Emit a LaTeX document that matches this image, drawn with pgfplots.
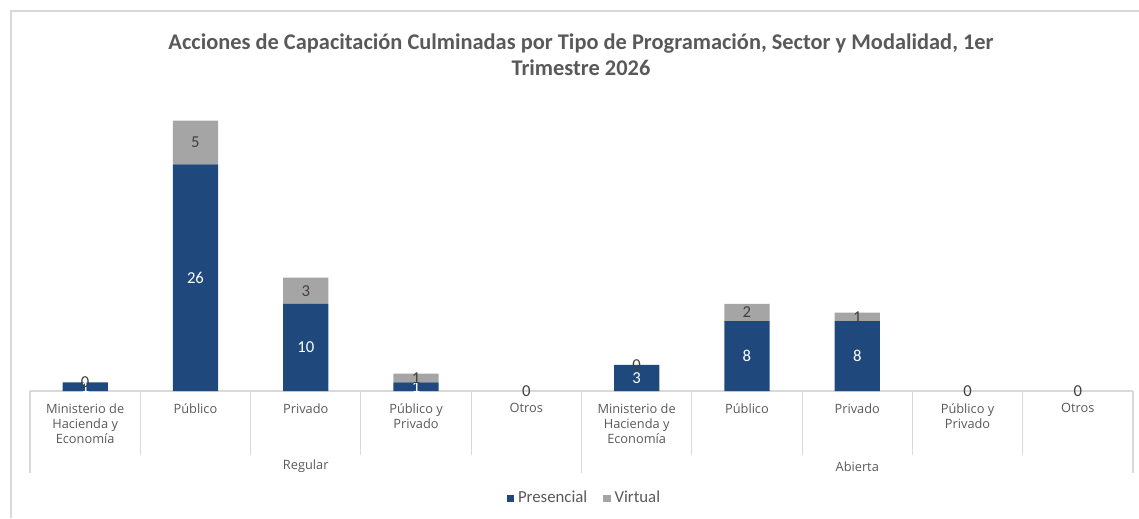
\documentclass[border=0pt]{standalone}
\usepackage{fontspec}
\setmainfont{Carlito}
\newfontfamily\ticks{Open Sans}
\usepackage{pgfplots}
\pgfplotsset{compat=1.18}
\usepackage{pgfplotstable}

\definecolor{presblue}{RGB}{31,73,125}
\definecolor{virtgray}{RGB}{165,165,165}
\definecolor{textgray}{RGB}{89,89,89}
\definecolor{labgray}{RGB}{64,64,64}
\definecolor{sepgray}{RGB}{217,217,217}

% x, Presencial, Virtual
\pgfplotstableread{
x pres virt
0 1 0
1 26 5
2 10 3
3 1 1
4 0 0
5 3 0
6 8 2
7 8 1
8 0 0
9 0 0
}\datatable

% label heights: middle of each segment
\pgfplotstableread{
x pc pv vc vv
0 0.5 1 1 0
1 13 26 28.5 5
2 5 10 11.5 3
3 0.5 1 1.5 1
4 0 0 0 0
5 1.5 3 3 0
6 4 8 9 2
7 4 8 8.5 1
8 0 0 0 0
9 0 0 0 0
}\labtable

\pgfplotsset{
  base/.style={
    width=827.25pt, height=228.9pt,
    scale only axis,
    at={(0,0)}, anchor=south west,
    xmin=-0.5, xmax=9.5,
    ymin=0, ymax=35,
    clip=false,
  },
}

\begin{document}
\begin{tikzpicture}
\useasboundingbox (-22.5pt,-95.25pt) rectangle (831.75pt,293.25pt);

% chart frame (top and left edges visible)
\draw[sepgray, line width=0.8pt] (-14.25pt,-95.25pt) -- (-14.25pt,285pt) -- (831.75pt,285pt);

\node[align=center, text=textgray, font=\bfseries\fontsize{16.8}{19.8}\selectfont]
  at (413.25pt,252pt) {Acciones de Capacitación Culminadas por Tipo de Programación, Sector y Modalidad, 1er\\Trimestre 2026};

\begin{axis}[
  base,
  ybar stacked,
  bar width=0.41,
  axis line style={draw=none},
  ytick=\empty,
  xtick={0,...,9},
  major tick length=0pt,
  xticklabels={{Ministerio de\\Hacienda y\\Economía},Público,Privado,{Público y\\Privado},Otros,
               {Ministerio de\\Hacienda y\\Economía},Público,Privado,{Público y\\Privado},Otros},
  xticklabel style={anchor=north, yshift=-6pt, align=center, text=textgray,
    font=\ticks\fontsize{9.6}{11.25}\selectfont},
  legend style={at={(0.503,-0.351)}, anchor=center, draw=none, fill=none,
    legend columns=2, font=\fontsize{12.6}{14}\selectfont, text=textgray,
    /tikz/every even column/.append style={column sep=10pt}},
  legend image code/.code={\fill[#1] (0pt,-2.7pt) rectangle (5.4pt,2.7pt);},
  legend cell align=left,
]
\addplot[fill=presblue, draw=none] table[x=x, y=pres] {\datatable};
\addlegendentry{\hspace{1pt}Presencial}
\addplot[fill=virtgray, draw=none] table[x=x, y=virt] {\datatable};
\addlegendentry{\hspace{1pt}Virtual}

% category axis: baseline and separators
\draw[sepgray, line width=0.8pt] (axis cs:-0.5,0) -- (axis cs:9.5,0);
\pgfplotsinvokeforeach{0.5,1.5,2.5,3.5,5.5,6.5,7.5,8.5}{
  \draw[sepgray, line width=0.8pt] (axis cs:#1,0) -- ([yshift=-48pt]axis cs:#1,0);
}
\pgfplotsinvokeforeach{-0.5,4.5,9.5}{
  \draw[sepgray, line width=0.8pt] (axis cs:#1,0) -- ([yshift=-61.5pt]axis cs:#1,0);
}
\node[text=textgray, font=\ticks\fontsize{9.6}{11.25}\selectfont] at (axis cs:2,0) [yshift=-56.5pt] {Regular};
\node[text=textgray, font=\ticks\fontsize{9.6}{11.25}\selectfont] at (axis cs:7,0) [yshift=-56.5pt] {Abierta};
\end{axis}

% data labels, centred in each segment
\begin{axis}[base, hide axis, /pgf/number format/assume math mode=true]
\addplot[only marks, mark=none, point meta=explicit,
  nodes near coords, nodes near coords align={center},
  every node near coord/.style={text=white, font=\fontsize{12.5}{12.5}\selectfont, inner sep=0pt}]
  table[x=x, y=pc, meta=pv] {\labtable};
\addplot[only marks, mark=none, point meta=explicit,
  nodes near coords, nodes near coords align={center},
  every node near coord/.style={text=labgray, font=\fontsize{12.5}{12.5}\selectfont, inner sep=0pt}]
  table[x=x, y=vc, meta=vv] {\labtable};
\end{axis}
\end{tikzpicture}
\end{document}
